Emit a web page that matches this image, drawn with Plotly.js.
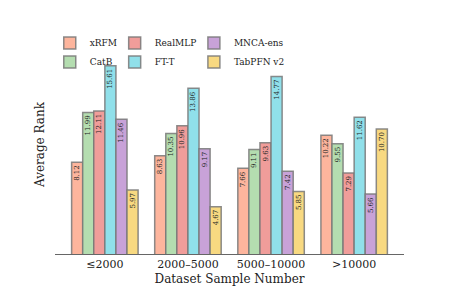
<!DOCTYPE html>
<html><head><meta charset="utf-8">
<script src="https://cdn.plot.ly/plotly-3.0.1.min.js"></script>
<style>html,body{margin:0;padding:0;background:#fff}#c{width:449px;height:299px}</style>
</head><body><div id="c"></div>
<script>
const categories = ["≤2000", "2000–5000", "5000–10000", ">10000"];
const models = ["xRFM", "CatB", "RealMLP", "FT-T", "MNCA-ens", "TabPFN v2"];
const xRFM = [8.12, 8.63, 7.66, 10.22];
const CatB = [11.99, 10.35, 9.11, 9.55];
const RealMLP = [12.11, 10.96, 9.63, 7.29];
const FTT = [15.61, 13.86, 14.77, 11.62];
const MNCA = [11.46, 9.17, 7.42, 5.66];
const TabPFN = [5.97, 4.67, 5.85, 10.70];
const seriesValues = [xRFM, CatB, RealMLP, FTT, MNCA, TabPFN];
const colors = ["#FDB59D", "#B4DDB0", "#F09D9A", "#90E0EA", "#C8A2D8", "#F8D981"];
const legendIds = ["legend", "legend", "legend2", "legend2", "legend3", "legend3"];

const traces = models.map((m, i) => ({
  type: "bar",
  name: m,
  x: categories,
  y: seriesValues[i],
  text: seriesValues[i].map(v => v.toFixed(2)),
  textposition: "inside",
  insidetextanchor: "end",
  textangle: -90,
  constraintext: "none",
  textfont: {family: "DejaVu Serif", size: 7, color: "#222"},
  marker: {color: colors[i], line: {color: "rgba(120,120,120,0.85)", width: 1.5}},
  legend: legendIds[i],
  hoverinfo: "none"
}));

function leg(x) {
  return {orientation: "v", x: x, y: 1.03, xanchor: "left", yanchor: "top",
    traceorder: "normal", font: {family: "DejaVu Serif", size: 9, color: "#222"},
    itemwidth: 30, tracegroupgap: 0, bgcolor: "rgba(0,0,0,0)"};
}

const layout = {
  width: 449, height: 299,
  margin: {l: 55, r: 45, t: 35, b: 45},
  paper_bgcolor: "#fff", plot_bgcolor: "#fff",
  barmode: "group", bargap: 0.2, bargroupgap: 0,
  showlegend: true,
  legend: leg(-0.015),
  legend2: leg(0.171),
  legend3: leg(0.398),
  xaxis: {range: [-0.6, 3.6], showline: true, linecolor: "#666", linewidth: 1.2,
    ticks: "", showgrid: false, zeroline: false,
    tickfont: {family: "DejaVu Serif", size: 11, color: "#222"},
    title: {text: "Dataset Sample Number", font: {family: "DejaVu Serif", size: 12, color: "#222"}, standoff: 4}},
  yaxis: {range: [1, 18], showline: false, showticklabels: false, ticks: "", showgrid: false, zeroline: false,
    title: {text: "Average Rank", font: {family: "DejaVu Serif", size: 12, color: "#222"}, standoff: 6}},
  font: {family: "DejaVu Serif"}
};
Plotly.newPlot("c", traces, layout, {displayModeBar: false, staticPlot: true});
</script></body></html>
